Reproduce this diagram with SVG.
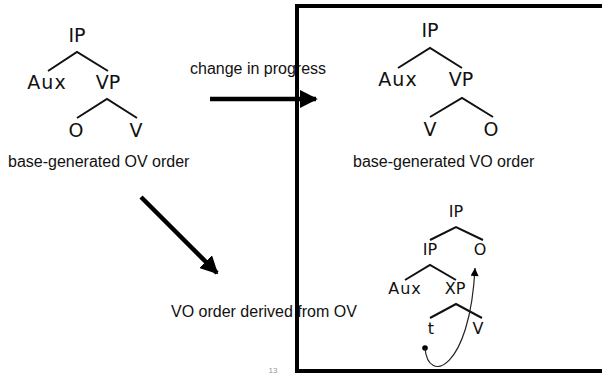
<svg xmlns="http://www.w3.org/2000/svg" width="602" height="374" viewBox="0 0 602 374">
<defs>
<style>
.t{font-family:"DejaVu Sans","Liberation Sans",sans-serif;font-size:19px;fill:#111;text-anchor:middle}
.s{font-family:"DejaVu Sans","Liberation Sans",sans-serif;font-size:16px;fill:#111;text-anchor:middle}
.lab{font-family:"Liberation Sans",Arial,sans-serif;font-size:16px;fill:#111}
.br{stroke:#111;stroke-width:2;fill:none}
.arr{stroke:#000;stroke-width:4.5;fill:none}
</style>
<marker id="ah" viewBox="0 0 10 10" refX="9" refY="5" markerWidth="4" markerHeight="4" orient="auto" markerUnits="strokeWidth">
<path d="M0,0 L10,5 L0,10 Z" fill="#000"/>
</marker>
<marker id="sh" viewBox="0 0 10 10" refX="10" refY="5" markerWidth="9" markerHeight="8" orient="auto" markerUnits="userSpaceOnUse">
<path d="M0,0 L10,5 L0,10 Z" fill="#000"/>
</marker>
</defs>
<rect width="602" height="374" fill="#fff"/>
<g id="labels">
<text class="lab" x="190" y="74">change in progress</text>
<text class="lab" x="171" y="317">VO order derived from OV</text>
<text x="273" y="373" font-family="Liberation Sans,Arial,sans-serif" font-size="8" fill="#999" text-anchor="middle">13</text>
</g>
<g id="box"><rect x="297" y="6" width="330" height="365" fill="none" stroke="#000" stroke-width="4"/></g>
<g id="tree-ov">
<text class="t" x="77" y="42">IP</text>
<path class="br" d="M48,71 L77,52 L108,71"/>
<text class="t" x="47" y="89" letter-spacing="1">Aux</text>
<text class="t" x="108" y="89">VP</text>
<path class="br" d="M77,118 L107,99 L137,118"/>
<text class="t" x="76" y="137">O</text>
<text class="t" x="136" y="137">V</text>
<text class="lab" x="8" y="167">base-generated OV order</text>
</g>
<g id="tree-vo">
<text class="t" x="430" y="37">IP</text>
<path class="br" d="M398,68 L430,48 L462,68"/>
<text class="t" x="398" y="86" letter-spacing="1">Aux</text>
<text class="t" x="461" y="86">VP</text>
<path class="br" d="M430,117 L462,98 L493,117"/>
<text class="t" x="430" y="136">V</text>
<text class="t" x="491" y="136">O</text>
<text class="lab" x="353" y="167">base-generated VO order</text>
</g>
<g id="tree-derived">
<text class="s" x="456" y="217">IP</text>
<path class="br" d="M430,240 L456,227 L483,240"/>
<text class="s" x="430" y="255">IP</text>
<text class="s" x="480" y="255">O</text>
<path class="br" d="M405,280 L430,265 L456,280"/>
<text class="s" x="405" y="294" letter-spacing="1">Aux</text>
<text class="s" x="455" y="294">XP</text>
<path class="br" d="M430,318 L456,304 L482,318"/>
<text class="s" x="431" y="334">t</text>
<text class="s" x="478" y="334">V</text>
</g>
<g id="connectors">
<path class="arr" d="M210,99 L316,99" marker-end="url(#ah)"/>
<path class="arr" d="M141,197 L217,273" marker-end="url(#ah)"/>
<circle cx="425" cy="348" r="2.8" fill="#000"/>
<path d="M425,348 C428,385 470,370 475,268" stroke="#222" stroke-width="1.2" fill="none" marker-end="url(#sh)"/>
</g>
</svg>
